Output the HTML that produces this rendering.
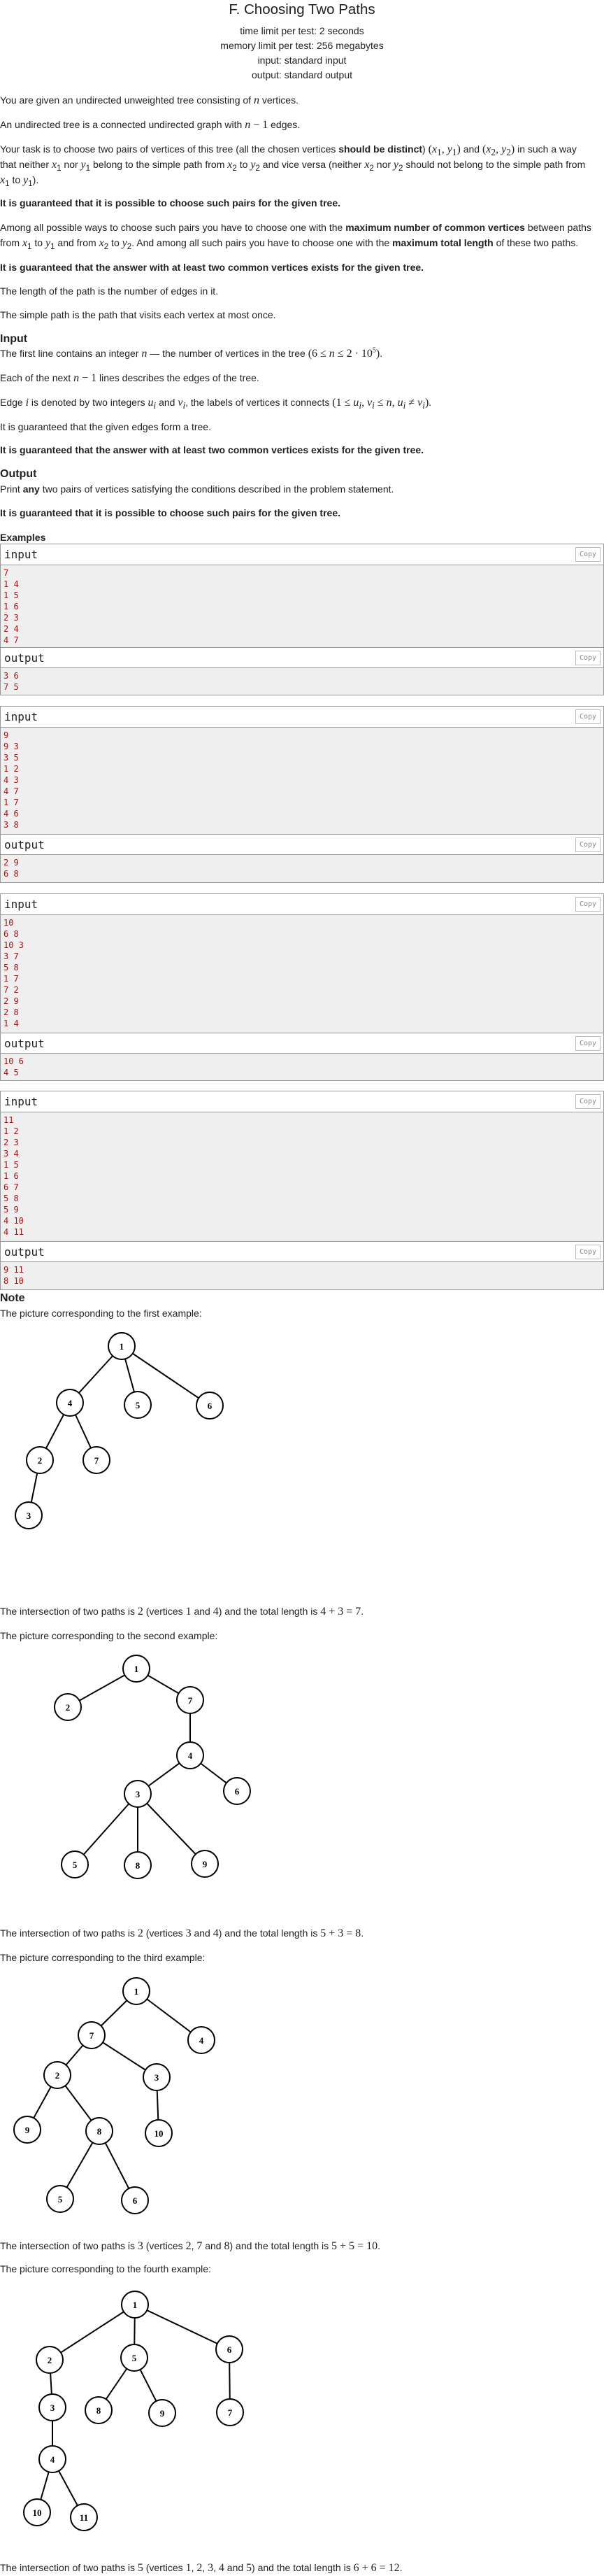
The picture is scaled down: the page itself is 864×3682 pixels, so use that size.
<!DOCTYPE html>
<html><head><meta charset="utf-8"><style>
html,body{margin:0;padding:0;background:#fff;}
body{width:864px;height:3678px;position:relative;overflow:hidden;font-family:"Liberation Sans",Arial,sans-serif;font-size:14px;color:#222;}
.t{position:absolute;left:0;white-space:nowrap;line-height:22px;}
.c{position:absolute;left:0;width:864px;text-align:center;white-space:nowrap;line-height:21px;}
.h{font-weight:bold;font-size:16px;}
i.m{font-family:"Liberation Serif",serif;font-size:16px;}
span.m{font-family:"Liberation Serif",serif;font-size:16px;}
sub,sup{line-height:0;}
.blk{position:absolute;left:0;width:862px;border:1px solid #999;}
.blk div{box-sizing:border-box;}
.hd{position:relative;background:#fff;height:30px;border-bottom:1px solid #999;font-family:"DejaVu Sans Mono",monospace;font-size:16px;line-height:29px;padding-left:5px;}
.hd2{border-top:1px solid #999;}
.cp{position:absolute;right:4px;top:4px;width:36px;height:21px;border:1px solid #bbb;font-family:"DejaVu Sans Mono",monospace;font-size:10px;color:#888;line-height:19px;text-align:center;}
.cd{background:#efefef;font-family:"DejaVu Sans Mono",monospace;font-size:12px;line-height:16px;color:#9a1818;padding:3px 4px;white-space:pre;overflow:hidden;}
</style></head><body>

<div class="c" style="top:-1px;font-size:20.5px;line-height:30px;">F. Choosing Two Paths</div>
<div class="c" style="top:34px;">time limit per test: 2 seconds</div>
<div class="c" style="top:55px;">memory limit per test: 256 megabytes</div>
<div class="c" style="top:76px;">input: standard input</div>
<div class="c" style="top:97px;">output: standard output</div>

<div class="t" style="top:132px;">You are given an undirected unweighted tree consisting of <i class="m">n</i> vertices.</div>
<div class="t" style="top:167px;">An undirected tree is a connected undirected graph with <span class="m"><i>n</i> − 1</span> edges.</div>
<div class="t" style="top:202px;">Your task is to choose two pairs of vertices of this tree (all the chosen vertices <b>should be distinct</b>) <span class="m">(<i>x</i><sub>1</sub>, <i>y</i><sub>1</sub>)</span> and <span class="m">(<i>x</i><sub>2</sub>, <i>y</i><sub>2</sub>)</span> in such a way</div>
<div class="t" style="top:224px;">that neither <i class="m">x</i><sub>1</sub> nor <i class="m">y</i><sub>1</sub> belong to the simple path from <i class="m">x</i><sub>2</sub> to <i class="m">y</i><sub>2</sub> and vice versa (neither <i class="m">x</i><sub>2</sub> nor <i class="m">y</i><sub>2</sub> should not belong to the simple path from</div>
<div class="t" style="top:246px;"><i class="m">x</i><sub>1</sub> to <i class="m">y</i><sub>1</sub>).</div>
<div class="t" style="top:279px;"><b>It is guaranteed that it is possible to choose such pairs for the given tree.</b></div>
<div class="t" style="top:314px;">Among all possible ways to choose such pairs you have to choose one with the <b>maximum number of common vertices</b> between paths</div>
<div class="t" style="top:336px;">from <i class="m">x</i><sub>1</sub> to <i class="m">y</i><sub>1</sub> and from <i class="m">x</i><sub>2</sub> to <i class="m">y</i><sub>2</sub>. And among all such pairs you have to choose one with the <b>maximum total length</b> of these two paths.</div>
<div class="t" style="top:371px;"><b>It is guaranteed that the answer with at least two common vertices exists for the given tree.</b></div>
<div class="t" style="top:405px;">The length of the path is the number of edges in it.</div>
<div class="t" style="top:439px;">The simple path is the path that visits each vertex at most once.</div>
<div class="t h" style="top:474px;">Input</div>
<div class="t" style="top:494px;">The first line contains an integer <i class="m">n</i> — the number of vertices in the tree <span class="m">(6 ≤ <i>n</i> ≤ 2 · 10<sup style="font-size:10px">5</sup>)</span>.</div>
<div class="t" style="top:529px;">Each of the next <span class="m"><i>n</i> − 1</span> lines describes the edges of the tree.</div>
<div class="t" style="top:564px;">Edge <i class="m">i</i> is denoted by two integers <i class="m">u<sub>i</sub></i> and <i class="m">v<sub>i</sub></i>, the labels of vertices it connects <span class="m">(1 ≤ <i>u<sub>i</sub></i>, <i>v<sub>i</sub></i> ≤ <i>n</i>, <i>u<sub>i</sub></i> ≠ <i>v<sub>i</sub></i>)</span>.</div>
<div class="t" style="top:599px;">It is guaranteed that the given edges form a tree.</div>
<div class="t" style="top:632px;"><b>It is guaranteed that the answer with at least two common vertices exists for the given tree.</b></div>
<div class="t h" style="top:667px;">Output</div>
<div class="t" style="top:688px;">Print <b>any</b> two pairs of vertices satisfying the conditions described in the problem statement.</div>
<div class="t" style="top:722px;"><b>It is guaranteed that it is possible to choose such pairs for the given tree.</b></div>
<div class="t" style="top:757px;font-weight:bold;">Examples</div>

<div class="blk" style="top:777px;"><div class="hd">input<div class="cp">Copy</div></div><div class="cd" style="height:117px;">7
1 4
1 5
1 6
2 3
2 4
4 7</div><div class="hd hd2">output<div class="cp">Copy</div></div><div class="cd" style="height:38px;">3 6
7 5</div></div>

<div class="blk" style="top:1009px;"><div class="hd">input<div class="cp">Copy</div></div><div class="cd" style="height:152px;">9
9 3
3 5
1 2
4 3
4 7
1 7
4 6
3 8</div><div class="hd hd2">output<div class="cp">Copy</div></div><div class="cd" style="height:39px;">2 9
6 8</div></div>

<div class="blk" style="top:1277px;"><div class="hd">input<div class="cp">Copy</div></div><div class="cd" style="height:168px;">10
6 8
10 3
3 7
5 8
1 7
7 2
2 9
2 8
1 4</div><div class="hd hd2">output<div class="cp">Copy</div></div><div class="cd" style="height:38px;">10 6
4 5</div></div>

<div class="blk" style="top:1559px;"><div class="hd">input<div class="cp">Copy</div></div><div class="cd" style="height:184px;">11
1 2
2 3
3 4
1 5
1 6
6 7
5 8
5 9
4 10
4 11</div><div class="hd hd2">output<div class="cp">Copy</div></div><div class="cd" style="height:39px;">9 11
8 10</div></div>

<div class="t h" style="top:1845px;">Note</div>
<div class="t" style="top:1866px;">The picture corresponding to the first example:</div>
<div class="t" style="top:2292px;">The intersection of two paths is <span class="m">2</span> (vertices <span class="m">1</span> and <span class="m">4</span>) and the total length is <span class="m">4 + 3 = 7</span>.</div>
<div class="t" style="top:2327px;">The picture corresponding to the second example:</div>
<div class="t" style="top:2752px;">The intersection of two paths is <span class="m">2</span> (vertices <span class="m">3</span> and <span class="m">4</span>) and the total length is <span class="m">5 + 3 = 8</span>.</div>
<div class="t" style="top:2787px;">The picture corresponding to the third example:</div>
<div class="t" style="top:3199px;">The intersection of two paths is <span class="m">3</span> (vertices <span class="m">2</span>, <span class="m">7</span> and <span class="m">8</span>) and the total length is <span class="m">5 + 5 = 10</span>.</div>
<div class="t" style="top:3232px;">The picture corresponding to the fourth example:</div>
<div class="t" style="top:3659px;">The intersection of two paths is <span class="m">5</span> (vertices <span class="m">1</span>, <span class="m">2</span>, <span class="m">3</span>, <span class="m">4</span> and <span class="m">5</span>) and the total length is <span class="m">6 + 6 = 12</span>.</div>

<svg style="position:absolute;left:0;top:0" width="864" height="3678" viewBox="0 0 864 3678">
<g stroke="#000" stroke-width="2">
<line x1="174" y1="1924" x2="100" y2="2005"/><line x1="174" y1="1924" x2="197" y2="2008"/><line x1="174" y1="1924" x2="300" y2="2009"/>
<line x1="100" y1="2005" x2="57" y2="2087"/><line x1="100" y1="2005" x2="138" y2="2087"/><line x1="57" y1="2087" x2="41" y2="2166"/>
<line x1="195" y1="2385" x2="97" y2="2440"/><line x1="195" y1="2385" x2="272" y2="2430"/><line x1="272" y1="2430" x2="272" y2="2509"/>
<line x1="272" y1="2509" x2="197" y2="2564"/><line x1="272" y1="2509" x2="339" y2="2560"/>
<line x1="197" y1="2564" x2="107" y2="2665"/><line x1="197" y1="2564" x2="197" y2="2666"/><line x1="197" y1="2564" x2="293" y2="2664"/>
<line x1="195" y1="2846" x2="131" y2="2909"/><line x1="195" y1="2846" x2="288" y2="2916"/>
<line x1="131" y1="2909" x2="82" y2="2966"/><line x1="131" y1="2909" x2="224" y2="2969"/>
<line x1="82" y1="2966" x2="39" y2="3044"/><line x1="82" y1="2966" x2="142" y2="3046"/><line x1="224" y1="2969" x2="227" y2="3049"/>
<line x1="142" y1="3046" x2="86" y2="3143"/><line x1="142" y1="3046" x2="193" y2="3145"/>
<line x1="193" y1="3294" x2="71" y2="3373"/><line x1="193" y1="3294" x2="192" y2="3370"/><line x1="193" y1="3294" x2="328" y2="3358"/>
<line x1="71" y1="3373" x2="75" y2="3441"/><line x1="75" y1="3441" x2="75" y2="3515"/>
<line x1="75" y1="3515" x2="53" y2="3591"/><line x1="75" y1="3515" x2="120" y2="3598"/>
<line x1="192" y1="3370" x2="141" y2="3445"/><line x1="192" y1="3370" x2="232" y2="3449"/><line x1="328" y1="3358" x2="329" y2="3448"/>
</g>
<g stroke="#000" stroke-width="2" fill="#fff">
<circle cx="174" cy="1924" r="19"/><circle cx="100" cy="2005" r="19"/><circle cx="197" cy="2008" r="19"/><circle cx="300" cy="2009" r="19"/><circle cx="57" cy="2087" r="19"/><circle cx="138" cy="2087" r="19"/><circle cx="41" cy="2166" r="19"/>
<circle cx="195" cy="2385" r="19"/><circle cx="97" cy="2440" r="19"/><circle cx="272" cy="2430" r="19"/><circle cx="272" cy="2509" r="19"/><circle cx="339" cy="2560" r="19"/><circle cx="197" cy="2564" r="19"/><circle cx="107" cy="2665" r="19"/><circle cx="197" cy="2666" r="19"/><circle cx="293" cy="2664" r="19"/>
<circle cx="195" cy="2846" r="19"/><circle cx="131" cy="2909" r="19"/><circle cx="288" cy="2916" r="19"/><circle cx="82" cy="2966" r="19"/><circle cx="224" cy="2969" r="19"/><circle cx="39" cy="3044" r="19"/><circle cx="142" cy="3046" r="19"/><circle cx="227" cy="3049" r="19"/><circle cx="86" cy="3143" r="19"/><circle cx="193" cy="3145" r="19"/>
<circle cx="193" cy="3294" r="19"/><circle cx="71" cy="3373" r="19"/><circle cx="192" cy="3370" r="19"/><circle cx="328" cy="3358" r="19"/><circle cx="75" cy="3441" r="19"/><circle cx="141" cy="3445" r="19"/><circle cx="232" cy="3449" r="19"/><circle cx="329" cy="3448" r="19"/><circle cx="75" cy="3515" r="19"/><circle cx="53" cy="3591" r="19"/><circle cx="120" cy="3598" r="19"/>
</g>
<g font-family="Liberation Serif,serif" font-weight="bold" font-size="13" text-anchor="middle" fill="#000">
<text x="174" y="1929">1</text><text x="100" y="2010">4</text><text x="197" y="2013">5</text><text x="300" y="2014">6</text><text x="57" y="2092">2</text><text x="138" y="2092">7</text><text x="41" y="2171">3</text>
<text x="195" y="2390">1</text><text x="97" y="2445">2</text><text x="272" y="2435">7</text><text x="272" y="2514">4</text><text x="339" y="2565">6</text><text x="197" y="2569">3</text><text x="107" y="2670">5</text><text x="197" y="2671">8</text><text x="293" y="2669">9</text>
<text x="195" y="2851">1</text><text x="131" y="2914">7</text><text x="288" y="2921">4</text><text x="82" y="2971">2</text><text x="224" y="2974">3</text><text x="39" y="3049">9</text><text x="142" y="3051">8</text><text x="227" y="3054">10</text><text x="86" y="3148">5</text><text x="193" y="3150">6</text>
<text x="193" y="3299">1</text><text x="71" y="3378">2</text><text x="192" y="3375">5</text><text x="328" y="3363">6</text><text x="75" y="3446">3</text><text x="141" y="3450">8</text><text x="232" y="3454">9</text><text x="329" y="3453">7</text><text x="75" y="3520">4</text><text x="53" y="3596">10</text><text x="120" y="3603">11</text>
</g>
</svg>
</body></html>
